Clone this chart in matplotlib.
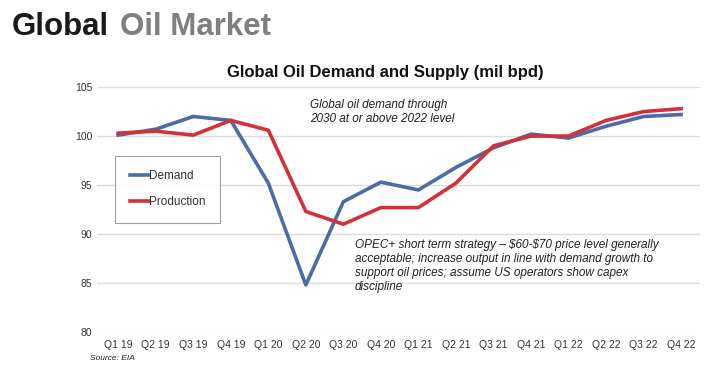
import numpy as np
import matplotlib.pyplot as plt

plt.rcParams['font.family'] = ['Liberation Sans', 'DejaVu Sans']

# quarters and values (mil bpd)
quarters = ['Q1 19', 'Q2 19', 'Q3 19', 'Q4 19', 'Q1 20', 'Q2 20', 'Q3 20', 'Q4 20',
            'Q1 21', 'Q2 21', 'Q3 21', 'Q4 21', 'Q1 22', 'Q2 22', 'Q3 22', 'Q4 22']
demand = [100.1, 100.7, 102.0, 101.6, 95.2, 84.8, 93.3, 95.3,
          94.5, 96.8, 98.8, 100.2, 99.8, 101.0, 102.0, 102.2]
production = [100.3, 100.5, 100.1, 101.6, 100.6, 92.3, 91.0, 92.7,
              92.7, 95.2, 99.0, 100.0, 100.0, 101.6, 102.5, 102.8]
yticks = [80, 85, 90, 95, 100, 105]

fig = plt.figure(figsize=(7.2, 3.66), dpi=100)
ax = fig.add_axes([0.135, 0.093, 0.837, 0.669])

x = np.arange(len(quarters))
ax.plot(x, demand, color='#4a6da8', lw=2.6, label='Demand')
ax.plot(x, production, color='#d3303a', lw=2.6, label='Production')

ax.set_xlim(-0.56, 15.5)
ax.set_ylim(80, 105)
ax.set_yticks(yticks)
ax.set_xticks(x)
ax.set_xticklabels(quarters)
ax.tick_params(length=0, labelsize=7.5, colors='#333333')
ax.tick_params(axis='x', pad=6)
ax.grid(axis='y', color='#dddddd', lw=1)
ax.set_axisbelow(True)
for s in ax.spines.values():
    s.set_visible(False)

leg = ax.legend(loc='upper left', bbox_to_anchor=(0.03, 0.72), fontsize=8.5,
                handlelength=1.6, handletextpad=0.0, labelspacing=1.15,
                borderpad=1.25, borderaxespad=0, fancybox=False,
                edgecolor='#888888')
leg.get_frame().set_linewidth(0.8)
for t in leg.get_texts():
    t.set_color('#333333')

# big header: "Global" dark, "Oil Market" grey
t1 = fig.text(12 / 720, 1 - 27 / 366, 'Global', fontsize=22.5, fontweight='bold',
              color='#1a1a1a', va='center', ha='left')
fig.canvas.draw()
bb = t1.get_window_extent()
fig.text((bb.x1 + 11) / 720, 1 - 27 / 366, 'Oil Market', fontsize=22.5,
         fontweight='bold', color='#7f7f7f', va='center', ha='left')

fig.text(385 / 720, 1 - 72 / 366, 'Global Oil Demand and Supply (mil bpd)',
         fontsize=12, fontweight='bold', color='#111111', ha='center', va='center')

# annotations
fig.text(310 / 720, 1 - 112 / 366, 'Global oil demand through\n2030 at or above 2022 level',
         fontsize=8.5, style='italic', color='#222222', va='center', ha='left',
         linespacing=1.25)
fig.text(355 / 720, 1 - 266 / 366,
         'OPEC+ short term strategy \u2013 \\$60-\\$70 price level generally\n'
         'acceptable; increase output in line with demand growth to\n'
         'support oil prices; assume US operators show capex\n'
         'discipline',
         fontsize=8.5, style='italic', color='#222222', va='center', ha='left',
         linespacing=1.25)
fig.text(90 / 720, 1 - 358 / 366, 'Source: EIA', fontsize=6, style='italic',
         color='#222222', va='center', ha='left')

fig.savefig('out.png', dpi=100)
